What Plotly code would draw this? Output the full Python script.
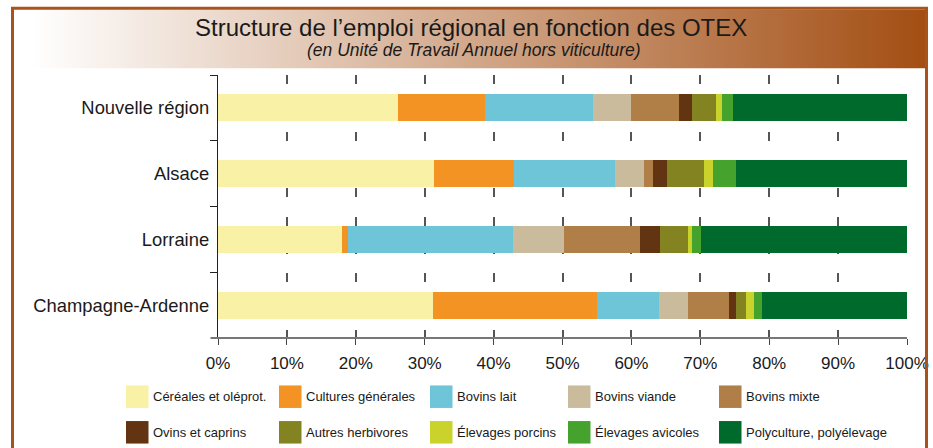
import base64
import plotly.graph_objects as go

# ---------------- data ----------------
regions = ["Nouvelle région", "Alsace", "Lorraine", "Champagne-Ardenne"]

cereales = [26.1, 31.3, 18.0, 31.2]
cultures_generales = [12.7, 11.6, 0.8, 23.8]
bovins_lait = [15.6, 14.7, 24.0, 9.0]
bovins_viande = [5.5, 4.2, 7.4, 4.2]
bovins_mixte = [7.0, 1.3, 11.0, 6.0]
ovins_caprins = [1.9, 2.0, 2.9, 1.0]
autres_herbivores = [3.5, 5.4, 4.1, 1.4]
elevages_porcins = [0.9, 1.3, 0.6, 1.2]
elevages_avicoles = [1.5, 3.4, 1.3, 1.1]
polyculture = [25.3, 24.8, 29.9, 21.1]

series_names = ["Céréales et oléprot.", "Cultures générales", "Bovins lait",
                "Bovins viande", "Bovins mixte", "Ovins et caprins",
                "Autres herbivores", "Élevages porcins", "Élevages avicoles",
                "Polyculture, polyélevage"]
series_values = [cereales, cultures_generales, bovins_lait, bovins_viande,
                 bovins_mixte, ovins_caprins, autres_herbivores,
                 elevages_porcins, elevages_avicoles, polyculture]
series_colors = ["#F8F1A6", "#F39324", "#6FC5D8", "#CABB9C", "#B07F48",
                 "#623411", "#838322", "#C9D32B", "#45A22D", "#006A2D"]

x_tick_values = [0, 10, 20, 30, 40, 50, 60, 70, 80, 90, 100]
x_tick_labels = ["0%", "10%", "20%", "30%", "40%", "50%", "60%", "70%",
                 "80%", "90%", "100%"]

title = "Structure de l’emploi régional en fonction des OTEX"
subtitle = "(en Unité de Travail Annuel hors viticulture)"

# ---------------- layout helpers ----------------
W, H = 933, 448
L, R, T, B = 218, 907, 75, 338


def px(x):
    return (x - L) / (R - L)


def py(y):
    return (B - y) / (B - T)


FONT = "Liberation Sans, Arial, sans-serif"

fig = go.Figure()
for name, vals, col in zip(series_names, series_values, series_colors):
    fig.add_trace(go.Bar(
        y=regions, x=vals, name=name, orientation="h",
        marker=dict(color=col, line=dict(width=0)),
        showlegend=False, hoverinfo="x+name",
    ))

fig.update_layout(
    width=W, height=H, autosize=False,
    margin=dict(l=L, r=W - R, t=T, b=H - B, pad=0, autoexpand=False),
    barmode="stack", bargap=0.59,
    paper_bgcolor="white", plot_bgcolor="white",
    font=dict(family=FONT, color="#1a1a1a"),
)

fig.update_xaxes(
    automargin=False,
    range=[0, 100], tickmode="array", tickvals=x_tick_values,
    ticktext=x_tick_labels,
    showline=False, zeroline=False,
    showgrid=True, gridcolor="#555555", gridwidth=1.5, griddash="9px,19.33px",
    ticks="outside", ticklen=6, tickwidth=1.3, tickcolor="#444444",
    ticklabelstandoff=4,
    tickfont=dict(size=17, family=FONT, color="#1a1a1a"),
)
fig.update_yaxes(
    automargin=False,
    categoryorder="array", categoryarray=regions, autorange="reversed",
    showline=True, linecolor="#222222", linewidth=1.3,
    showgrid=False, zeroline=False,
    ticks="outside", tickson="boundaries", ticklen=7, tickwidth=1.3,
    tickcolor="#222222", ticklabelstandoff=4,
    tickfont=dict(size=18.4, family=FONT, color="#1a1a1a"),
)

shapes = []
# x axis line (extends a little left of the y axis)
shapes.append(dict(type="line", xref="paper", yref="paper",
                   x0=px(210.5), x1=1, y0=0, y1=0,
                   line=dict(color="#777777", width=2)))
# outer brown frame
shapes.append(dict(type="rect", xref="paper", yref="paper",
                   x0=px(12.5), x1=px(926.5), y0=py(8.2), y1=py(470),
                   line=dict(color="#A9531C", width=3), fillcolor="rgba(0,0,0,0)"))

# gradient title band
svg = ('<svg xmlns="http://www.w3.org/2000/svg" width="912" height="60" '
       'viewBox="0 0 912 60" preserveAspectRatio="none"><defs>'
       '<linearGradient id="g" x1="0" x2="1" y1="0" y2="0">'
       '<stop offset="0" stop-color="#ffffff"/>'
       '<stop offset="0.02" stop-color="#ffffff"/>'
       '<stop offset="1" stop-color="#A34E13"/>'
       '</linearGradient></defs>'
       '<rect width="912" height="60" fill="url(#g)"/></svg>')
src = "data:image/svg+xml;base64," + base64.b64encode(svg.encode()).decode()
fig.add_layout_image(dict(
    source=src, xref="paper", yref="paper",
    x=px(14), y=py(9.5), sizex=px(925) - px(14), sizey=py(9.5) - py(68.5),
    xanchor="left", yanchor="top", sizing="stretch", layer="below",
))

annotations = [
    dict(text=title, xref="paper", yref="paper", x=px(470.5), y=py(27),
         xanchor="center", yanchor="middle", showarrow=False,
         font=dict(size=24, family=FONT, color="#1a1a1a")),
    dict(text="<i>" + subtitle + "</i>", xref="paper", yref="paper",
         x=px(473.5), y=py(50), xanchor="center", yanchor="middle",
         showarrow=False, font=dict(size=17.5, family=FONT, color="#1a1a1a")),
]

# custom legend (big square swatches, 2 rows x 5 columns)
legend_col_x = [126, 279, 430, 568, 719]
legend_row_y = [396.7, 432.3]
sw = 22.5
for i, (name, col) in enumerate(zip(series_names, series_colors)):
    r, c = divmod(i, 5)
    x0 = legend_col_x[c]
    yc = legend_row_y[r]
    shapes.append(dict(type="rect", xref="paper", yref="paper",
                       x0=px(x0), x1=px(x0 + sw), y0=py(yc + sw / 2), y1=py(yc - sw / 2),
                       line=dict(width=0), fillcolor=col))
    annotations.append(dict(text=name, xref="paper", yref="paper",
                            x=px(x0 + sw + 2.5), y=py(yc), xanchor="left",
                            yanchor="middle", showarrow=False,
                            font=dict(size=13, family=FONT, color="#1a1a1a")))

fig.update_layout(shapes=shapes, annotations=annotations)

fig.write_html("out.html", config={"displayModeBar": False},
               post_script="document.body.style.margin='0';")
